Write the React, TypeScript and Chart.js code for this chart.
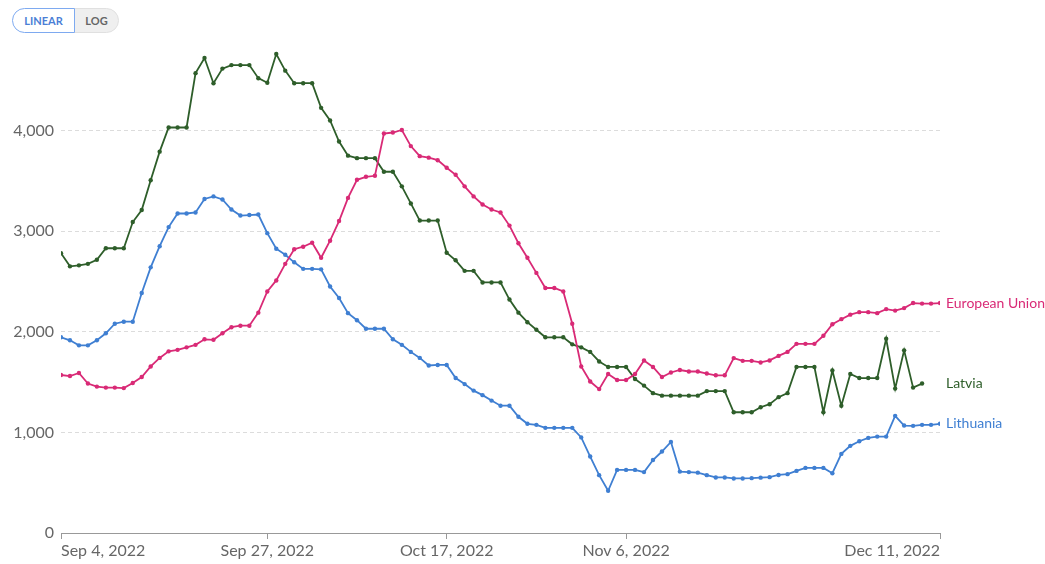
import React, { useEffect, useRef } from "react";
import { Chart, registerables } from "chart.js";

Chart.register(...registerables);

const startDate = new Date(2022, 8, 4);
const dayCount = 99;
const categories: string[] = Array.from({ length: dayCount }, (_, i) => {
  const d = new Date(startDate.getTime());
  d.setDate(d.getDate() + i);
  return d.toLocaleDateString("en-US", { month: "short", day: "numeric", year: "numeric" });
});

const tickIndices = [0, 23, 43, 63, 98];
const tickLabels = ["Sep 4, 2022", "Sep 27, 2022", "Oct 17, 2022", "Nov 6, 2022", "Dec 11, 2022"];
const yTicks = [0, 1000, 2000, 3000, 4000];

const euValues = [
  1570, 1560, 1590, 1485, 1455, 1445, 1445, 1440, 1490, 1550,
  1655, 1740, 1805, 1820, 1845, 1870, 1925, 1920, 1985, 2045,
  2060, 2060, 2190, 2400, 2510, 2675, 2820, 2845, 2885, 2735,
  2905, 3100, 3330, 3510, 3540, 3550, 3970, 3980, 4005, 3845,
  3745, 3730, 3705, 3630, 3560, 3445, 3345, 3265, 3215, 3185,
  3055, 2880, 2735, 2585, 2435, 2435, 2400, 2080, 1655, 1505,
  1430, 1580, 1520, 1520, 1580, 1715, 1650, 1550, 1595, 1620,
  1605, 1605, 1585, 1567, 1567, 1738, 1711, 1711, 1695, 1715,
  1760, 1800, 1880, 1880, 1880, 1960, 2075, 2125, 2170, 2195,
  2195, 2185, 2225, 2210, 2235, 2285, 2280, 2280, 2285,
];

const latviaValues = [
  2780, 2650, 2660, 2675, 2715, 2830, 2830, 2830, 3090, 3210,
  3505, 3790, 4030, 4030, 4030, 4570, 4720, 4470, 4615, 4650,
  4650, 4650, 4520, 4475, 4760, 4595, 4470, 4470, 4470, 4225,
  4100, 3890, 3750, 3725, 3725, 3725, 3590, 3590, 3445, 3275,
  3105, 3105, 3105, 2785, 2710, 2605, 2605, 2490, 2490, 2490,
  2320, 2190, 2095, 2020, 1945, 1945, 1945, 1875, 1845, 1800,
  1705, 1650, 1650, 1650, 1530, 1465, 1390, 1365, 1365, 1365,
  1365, 1365, 1410, 1410, 1410, 1200, 1200, 1200, 1250, 1280,
  1350, 1390, 1650, 1650, 1650, 1200, 1615, 1265, 1580, 1540,
  1540, 1540, 1930, 1435, 1815, 1445, 1485,
];

const lithuaniaValues = [
  1945, 1915, 1865, 1865, 1915, 1985, 2080, 2100, 2100, 2385,
  2640, 2850, 3040, 3175, 3175, 3185, 3320, 3345, 3315, 3215,
  3155, 3160, 3165, 2980, 2825, 2765, 2690, 2625, 2625, 2620,
  2450, 2335, 2185, 2115, 2030, 2030, 2030, 1925, 1870, 1800,
  1740, 1665, 1670, 1670, 1540, 1480, 1415, 1370, 1316, 1265,
  1265, 1155, 1085, 1075, 1045, 1045, 1045, 1045, 950, 760,
  575, 420, 627, 627, 627, 605, 725, 810, 905, 610,
  605, 600, 575, 552, 552, 542, 542, 545, 550, 555,
  577, 585, 617, 647, 647, 647, 594, 786, 866, 912,
  945, 958, 958, 1164, 1068, 1065, 1075, 1075, 1085,
];

const seriesNames = ["European Union", "Latvia", "Lithuania"];
const seriesColors = ["#d92a76", "#2e5e2a", "#3f7fd2"];
const seriesValues = [euValues, latviaValues, lithuaniaValues];

const endLabelPlugin = {
  id: "endLabels",
  afterDatasetsDraw(chart: any) {
    const { ctx, chartArea, scales } = chart;
    ctx.save();
    ctx.font = "14px Lato";
    ctx.textAlign = "left";
    ctx.textBaseline = "middle";
    chart.data.datasets.forEach((ds: any, i: number) => {
      const last = ds.data[ds.data.length - 1];
      const y = scales.y.getPixelForValue(last.y);
      ctx.fillStyle = seriesColors[i];
      ctx.fillText(seriesNames[i], chartArea.right + 6, y);
    });
    ctx.restore();
  },
};

export default function App() {
  const canvasRef = useRef<HTMLCanvasElement | null>(null);

  useEffect(() => {
    if (!canvasRef.current) return;
    Chart.defaults.font.family = "Lato";
    const chart = new Chart(canvasRef.current, {
      type: "line",
      data: {
        datasets: seriesValues.map((vals, i) => ({
          label: seriesNames[i],
          data: vals.map((v, k) => ({ x: k, y: v })),
          borderColor: seriesColors[i],
          backgroundColor: seriesColors[i],
          borderWidth: 1.8,
          pointRadius: 2.2,
          pointHoverRadius: 2.2,
          pointBorderWidth: 0,
          tension: 0,
        })),
      },
      options: {
        animation: false,
        responsive: false,
        devicePixelRatio: 1,
        layout: { padding: { top: 50, right: 105, left: 0, bottom: 0 } },
        plugins: {
          legend: { display: false },
          tooltip: { enabled: false },
        },
        scales: {
          x: {
            type: "linear",
            min: 0,
            max: dayCount - 1,
            afterBuildTicks: (scale: any) => {
              scale.ticks = tickIndices.map((v) => ({ value: v }));
            },
            afterFit: (scale: any) => {
              scale.height = 31;
            },
            ticks: {
              autoSkip: false,
              maxRotation: 0,
              align: "inner",
              padding: 2,
              color: "#666",
              font: { size: 16, family: "Lato" },
              callback: (value: any) => {
                const idx = tickIndices.indexOf(Number(value));
                return idx >= 0 ? tickLabels[idx] : categories[Number(value)];
              },
            },
            grid: {
              drawOnChartArea: false,
              drawTicks: true,
              tickLength: 6,
              color: "#999",
            },
            border: { display: true, color: "#999", width: 1 },
          },
          y: {
            min: 0,
            max: 4800,
            afterBuildTicks: (scale: any) => {
              scale.ticks = yTicks.map((v) => ({ value: v }));
            },
            afterFit: (scale: any) => {
              scale.width = 61;
            },
            ticks: {
              padding: 7,
              color: "#666",
              font: { size: 16, family: "Lato" },
              callback: (value: any) => Number(value).toLocaleString("en-US"),
            },
            grid: {
              drawTicks: false,
              color: (ctx: any) => (ctx.tick && ctx.tick.value === 0 ? "rgba(0,0,0,0)" : "#dcdcdc"),
              lineWidth: 1,
            },
            border: { display: false, dash: [4, 3] },
          },
        },
      },
      plugins: [endLabelPlugin],
    });
    return () => chart.destroy();
  }, []);

  const btnBase: React.CSSProperties = {
    position: "absolute",
    top: 8,
    height: 25,
    boxSizing: "border-box",
    fontFamily: "Lato",
    fontWeight: 700,
    fontSize: 11,
    display: "flex",
    alignItems: "center",
    justifyContent: "center",
  };

  return (
    <div style={{ position: "fixed", left: 0, top: 0, width: 1045, height: 564, background: "#fff" }}>
      <canvas ref={canvasRef} width={1045} height={564} style={{ position: "absolute", left: 0, top: 0 }} />
      <div
        style={{
          ...btnBase,
          left: 12,
          width: 63,
          border: "1.5px solid #7eaaf0",
          borderRadius: "13px 0 0 13px",
          color: "#4b7fd6",
          background: "#fff",
          zIndex: 2,
        }}
      >
        LINEAR
      </div>
      <div
        style={{
          ...btnBase,
          left: 74,
          width: 45,
          border: "1px solid #e0e0e0",
          borderRadius: "0 13px 13px 0",
          color: "#666",
          background: "#efefef",
        }}
      >
        LOG
      </div>
    </div>
  );
}
